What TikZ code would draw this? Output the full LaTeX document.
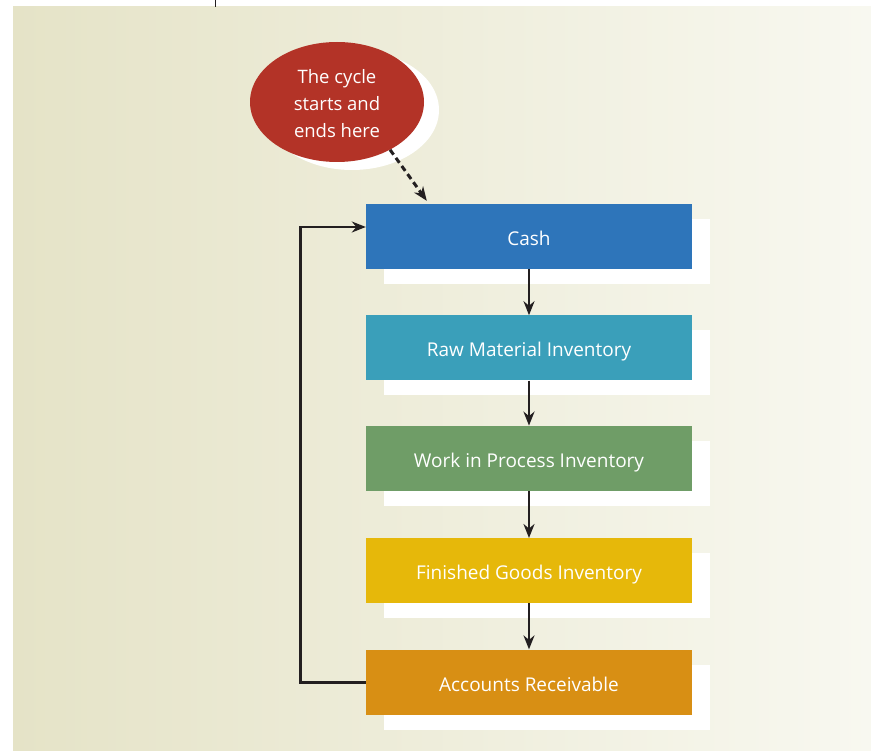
\documentclass[tikz,border=0pt]{standalone}
\usepackage{fontspec}
\setmainfont{Open Sans}
\usetikzlibrary{positioning,arrows.meta,shapes.geometric,shadows,calc}

\definecolor{cashblue}{HTML}{2E75BA}
\definecolor{rawteal}{HTML}{3A9FBA}
\definecolor{wipgreen}{HTML}{6F9D67}
\definecolor{fgyellow}{HTML}{E6B80A}
\definecolor{arorange}{HTML}{D88F14}
\definecolor{startred}{HTML}{B33327}
\definecolor{bgleft}{HTML}{E5E3C7}
\definecolor{bgright}{HTML}{F8F8F0}
\definecolor{linegray}{HTML}{231F20}

\begin{document}
\begin{tikzpicture}[
  x=1pt, y=-1pt,
  font=\fontsize{19}{27}\selectfont,
  >={Stealth[length=14pt,width=11pt]},
  stage/.style={rectangle, minimum width=326pt, minimum height=65pt, inner sep=0pt,
                text height=18pt, text depth=0pt,
                text=white, drop shadow={fill=white, opacity=1, shadow xshift=18pt, shadow yshift=-15pt}},
  bubble/.style={ellipse, minimum width=174pt, minimum height=120pt, inner sep=0pt,
                 fill=startred, text=white, align=center,
                 drop shadow={fill=white, opacity=1, shadow xshift=15pt, shadow yshift=-8pt}},
  flow/.style={->, line width=2.8pt, draw=linegray},
  hint/.style={->, line width=3pt, draw=linegray, dash pattern=on 6pt off 4pt},
]
\useasboundingbox (0,0) rectangle (871,751);

% ===== background panel =====
\shade[left color=bgleft, right color=bgright] (13,7) rectangle (871,751);
\draw[linegray, line width=0.8pt] (215,0) -- (215,7);

% ===== start bubble =====
\node[bubble, font=\fontsize{18.5}{27}\selectfont] (start) at (337,102)
  {\raisebox{-3.5pt}[\height][\depth]{\begin{tabular}{@{}c@{}}The cycle\\starts and\\ends here\end{tabular}}};

% ===== cycle stages =====
\node[stage, fill=cashblue] (cash) at (529,236.5) {Cash};
\node[stage, fill=rawteal, below=46pt of cash] (raw) {Raw Material Inventory};
\node[stage, fill=wipgreen, below=45pt of raw] (wip) {Work in Process Inventory};
\node[stage, fill=fgyellow, below=47pt of wip] (fg) {Finished Goods Inventory};
\node[stage, fill=arorange, below=46pt of fg] (ar) {Accounts Receivable};

% ===== arrows =====
\draw[hint] (start.-42) -- ($(cash.north west)+(61pt,3pt)$);
\draw[flow] (cash) -- (raw);
\draw[flow] (raw) -- (wip);
\draw[flow] (wip) -- (fg);
\draw[flow] (fg) -- (ar);
% back to cash
\draw[flow] (ar.west) -- ++(-65pt,0) |- ([yshift=9.5pt]cash.west);
\end{tikzpicture}
\end{document}
